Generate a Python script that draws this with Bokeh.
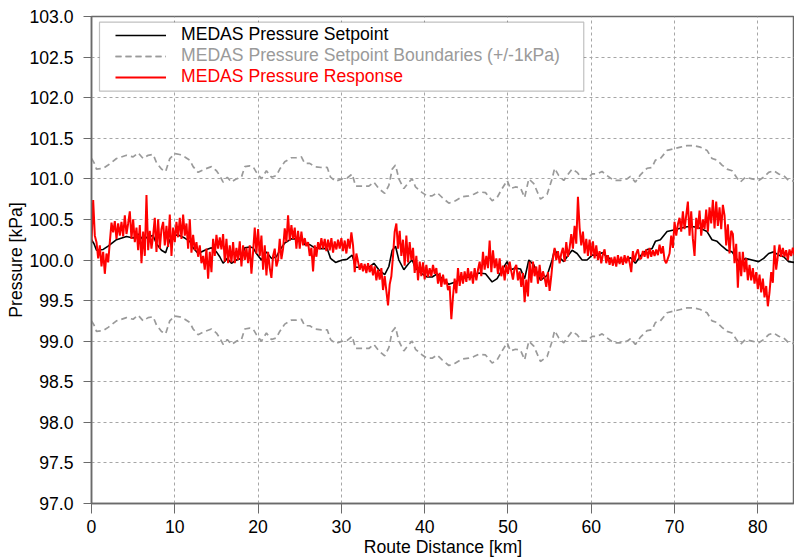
from bokeh.plotting import figure
from bokeh.models import (FixedTicker, PrintfTickFormatter, Legend, LegendItem,
                          BoxAnnotation, Range1d)
from bokeh.embed import file_html
from bokeh.resources import INLINE

# ---------------- data ----------------
setpoint_km = [0.0, 0.3, 0.6, 1.4, 2.0, 3.0, 4.2, 5.0, 5.6, 6.2, 6.8, 7.4, 7.8, 8.4, 8.9,
               9.4, 10.0, 10.6, 11.2, 11.8, 12.2, 12.8, 13.6, 14.4, 15.0, 15.4, 15.8, 16.3,
               16.8, 17.4, 18.0, 18.4, 19.0, 19.4, 19.8, 20.4, 21.0, 21.6, 22.2, 22.6, 23.2,
               24.0, 24.6, 25.2, 25.6, 26.2, 26.8, 27.6, 28.3, 28.7, 29.3, 30.1, 30.7, 31.3,
               31.7, 32.5, 33.3, 33.9, 34.5, 35.2, 35.7, 36.1, 36.5, 36.9, 37.5, 38.1, 38.5,
               38.9, 39.7, 40.3, 40.9, 41.5, 42.1, 42.9, 43.7, 44.5, 45.3, 45.9, 46.5, 47.3,
               48.1, 48.7, 49.3, 49.9, 50.3, 50.9, 51.5, 52.0, 52.5, 53.1, 53.9, 54.7, 55.3,
               55.6, 56.1, 56.7, 57.1, 57.7, 58.3, 58.9, 59.5, 60.1, 60.7, 61.3, 61.9, 62.7,
               63.5, 64.3, 64.7, 65.3, 65.9, 66.7, 67.3, 67.7, 68.3, 69.1, 69.9, 70.7, 71.5,
               72.3, 73.1, 73.9, 74.5, 75.1, 75.7, 76.3, 76.9, 77.5, 77.9, 78.5, 79.3, 80.1,
               80.7, 81.3, 81.9, 82.5, 83.1, 83.7, 84.4]
setpoint_kpa = [100.25, 100.20, 100.12, 100.13, 100.17, 100.25, 100.29, 100.27, 100.32, 100.25,
                100.29, 100.30, 100.20, 100.12, 100.09, 100.25, 100.31, 100.30, 100.27, 100.23,
                100.15, 100.08, 100.12, 100.15, 100.10, 100.04, 99.96, 100.02, 99.96, 100.00,
                100.02, 100.15, 100.16, 100.15, 100.08, 100.00, 100.10, 100.02, 100.04, 100.12,
                100.21, 100.26, 100.26, 100.27, 100.19, 100.19, 100.15, 100.14, 100.14, 100.02,
                99.97, 100.00, 100.01, 100.06, 99.91, 99.91, 99.91, 99.96, 99.88, 99.82,
                99.92, 100.12, 100.17, 100.00, 99.88, 99.96, 100.00, 99.90, 99.83, 99.79,
                99.79, 99.83, 99.77, 99.70, 99.73, 99.78, 99.79, 99.81, 99.84, 99.83,
                99.73, 99.77, 99.88, 99.98, 99.88, 99.90, 99.89, 99.77, 100.00, 99.94,
                99.75, 99.81, 100.00, 100.13, 100.04, 99.98, 100.04, 100.12, 100.08, 100.00,
                100.00, 100.06, 100.06, 100.09, 100.04, 99.98, 99.98, 100.00, 100.03, 99.96,
                100.05, 100.13, 100.14, 100.23, 100.25, 100.35, 100.37, 100.39, 100.41, 100.41,
                100.39, 100.35, 100.25, 100.23, 100.17, 100.12, 100.10, 100.01, 99.96, 100.02,
                100.00, 99.98, 100.02, 100.08, 100.10, 100.06, 100.04, 99.98, 99.97]
boundary_offset_kpa = 1.0

response_step_km = 0.2
response_kpa = [
    100.22, 100.74, 100.30, 100.22, 100.02,  100.18, 99.92, 100.10, 99.83, 100.08,
    99.97, 100.22, 100.46, 100.34, 100.48,   100.26, 100.45, 100.30, 100.47, 100.29,
    100.55, 100.32, 100.45, 100.60, 100.26,  100.50, 100.22, 100.40, 100.12, 100.43,
    99.96, 100.35, 100.05, 100.80, 100.12,   100.36, 100.14, 100.30, 100.52, 100.10,
    100.50, 100.14, 100.38, 100.47, 100.18,  100.42, 100.16, 100.56, 100.05, 100.40,
    100.22, 100.47, 100.28, 100.52, 100.26,  100.56, 100.30, 100.45, 100.14, 100.50,
    100.09, 100.31, 100.12, 100.22, 100.04,  100.18, 99.96, 100.05, 99.88, 100.14,
    99.77, 100.10, 99.85, 100.26, 100.05,    100.31, 100.14, 100.28, 100.13, 100.32,
    99.98, 100.26, 99.96, 100.18, 99.97,     100.22, 99.96, 100.15, 100.00, 100.23,
    99.92, 100.18, 100.00, 100.15, 99.96,    100.18, 99.83, 100.10, 100.40, 100.08,
    100.38, 100.05, 100.30, 99.88, 100.18,   99.81, 100.10, 99.90, 99.78, 100.05,
    100.14, 99.92, 100.00, 100.26, 100.01,   100.14, 100.39, 100.22, 100.55, 100.24,
    100.43, 100.26, 100.40, 100.14, 100.36,  100.14, 100.35, 100.18, 100.27, 100.17,
    100.22, 100.05, 100.15, 99.86, 100.18,   100.04, 100.22, 100.13, 100.27, 100.14,
    100.26, 100.11, 100.25, 100.12, 100.27,  100.09, 100.23, 100.13, 100.25, 100.14,
    100.27, 100.11, 100.24, 100.08, 100.26,  100.14, 100.34, 100.18, 99.85, 100.08,
    99.98, 99.88, 99.96, 99.86, 99.95,       99.84, 99.96, 99.85, 99.94, 99.81,
    99.92, 99.75, 99.88, 99.76, 99.90,       99.63, 99.80, 99.62, 99.44, 99.70,
    99.80, 100.05, 100.35, 100.45, 100.14,   100.36, 100.05, 100.25, 99.93, 100.30,
    99.97, 100.22, 100.00, 100.15, 99.84,    100.05, 99.75, 99.98, 99.80, 99.97,
    99.76, 99.94, 99.79, 99.90, 99.80,       99.94, 99.83, 99.90, 99.71, 99.84,
    99.67, 99.82, 99.70, 99.77, 99.63,       99.68, 99.27, 99.55, 99.77, 99.59,
    99.90, 99.68, 99.85, 99.71, 99.86,       99.73, 99.90, 99.75, 99.86, 99.71,
    99.90, 99.75, 99.88, 99.98, 99.80,       100.10, 99.88, 100.05, 99.90, 100.24,
    99.85, 100.12, 99.90, 100.02, 99.83,     100.02, 99.80, 99.93, 99.75, 99.94,
    99.83, 99.98, 99.86, 99.76, 99.90,       99.94, 99.75, 99.86, 99.67, 99.84,
    99.48, 99.76, 99.55, 99.98, 99.72,       99.98, 99.80, 99.92, 99.71, 99.94,
    99.75, 99.86, 99.78, 99.67, 99.85,       99.62, 99.80, 100.02, 100.15, 100.00,
    100.11, 99.96, 100.08, 100.15, 99.98,    100.22, 100.04, 100.15, 100.32, 100.14,
    100.42, 100.20, 100.78, 100.40, 100.18,  100.35, 100.08, 100.26, 100.05, 100.25,
    100.05, 100.23, 100.02, 100.18, 100.00,  100.11, 99.96, 100.07, 100.13, 99.96,
    100.06, 99.94, 100.03, 99.93, 100.04,    99.92, 100.06, 99.95, 100.04, 99.94,
    100.06, 99.96, 100.05, 99.97, 99.85,     100.11, 99.98, 100.08, 100.13, 100.01,
    100.02, 100.11, 100.04, 100.13, 100.02,  100.15, 100.04, 100.12, 100.05, 100.13,
    100.06, 100.19, 100.08, 100.17, 100.00,  99.96, 100.02, 100.08, 100.30, 100.15,
    100.47, 100.30, 100.44, 100.52, 100.35,  100.60, 100.38, 100.55, 100.72, 100.30,
    100.60, 100.26, 100.05, 100.52, 100.38,  100.61, 100.30, 100.50, 100.38, 100.62,
    100.35, 100.65, 100.45, 100.74, 100.39,  100.72, 100.42, 100.65, 100.38, 100.68,
    100.55, 100.18, 100.44, 100.08, 100.36,  100.32, 99.96, 100.20, 99.66, 100.10,
    99.80, 100.10, 99.85, 100.02, 99.75,     99.94, 99.75, 99.90, 99.71, 99.85,
    99.64, 99.82, 99.60, 99.77, 99.54,       99.68, 99.43, 99.60, 99.85, 99.72,
    100.18, 99.88, 100.05, 100.19, 100.04,   100.15, 100.04, 100.12, 100.00, 100.13,
    100.05, 100.15, 100.06,
]

x_ticks = [0, 10, 20, 30, 40, 50, 60, 70, 80]
y_ticks = [97.0, 97.5, 98.0, 98.5, 99.0, 99.5, 100.0, 100.5, 101.0, 101.5, 102.0, 102.5, 103.0]

legend_labels = ["MEDAS Pressure Setpoint",
                 "MEDAS Pressure Setpoint Boundaries (+/-1kPa)",
                 "MEDAS Pressure Response"]

# derived
response_km = [i * response_step_km for i in range(len(response_kpa))]
upper_kpa = [v + boundary_offset_kpa for v in setpoint_kpa]
lower_kpa = [v - boundary_offset_kpa for v in setpoint_kpa]

FONT = "Liberation Sans"
FS = "17.6px"

p = figure(width=794, height=559, output_backend="svg", toolbar_location=None,
           x_range=Range1d(0, 84.4), y_range=Range1d(97, 103),
           min_border_left=91, min_border_right=0, min_border_top=16, min_border_bottom=56)
p.background_fill_color = "white"
p.border_fill_color = "white"
p.outline_line_color = "#6a6a6a"
p.outline_line_width = 1.5

for ax in (p.xaxis[0], p.yaxis[0]):
    ax.axis_line_color = "#6a6a6a"
    ax.axis_line_width = 1.5
    ax.major_tick_line_color = "#6a6a6a"
    ax.minor_tick_line_color = None
    ax.major_tick_in = 0
    ax.major_label_text_font = FONT
    ax.major_label_text_font_size = FS
    ax.major_label_text_color = "black"
    ax.axis_label_text_font = FONT
    ax.axis_label_text_font_size = FS
    ax.axis_label_text_font_style = "normal"
    ax.axis_label_text_color = "black"

p.xaxis.ticker = FixedTicker(ticks=x_ticks)
p.yaxis.ticker = FixedTicker(ticks=y_ticks)
p.yaxis.formatter = PrintfTickFormatter(format="%.1f")
p.xaxis.axis_label = "Route Distance [km]"
p.yaxis.axis_label = "Pressure [kPa]"
p.xaxis.major_tick_out = 10
p.xaxis.major_label_standoff = 6
p.xaxis.axis_label_standoff = 1
p.yaxis.major_tick_out = 8
p.yaxis.major_label_standoff = 10
p.yaxis.axis_label_standoff = 0

for g in (p.xgrid[0], p.ygrid[0]):
    g.grid_line_color = "#a6a6a6"
    g.grid_line_dash = "3 3"
    g.grid_line_width = 1
p.xgrid.ticker = FixedTicker(ticks=x_ticks)
p.ygrid.ticker = FixedTicker(ticks=y_ticks)

r_set = p.line(setpoint_km, setpoint_kpa, line_color="black", line_width=1.6)
r_up = p.line(setpoint_km, upper_kpa, line_color="#9a9a9a", line_width=1.7, line_dash="6 4")
r_lo = p.line(setpoint_km, lower_kpa, line_color="#9a9a9a", line_width=1.7, line_dash="6 4")
r_resp = p.line(response_km, response_kpa, line_color="#ff0000", line_width=2.0)

# legend frame
box = BoxAnnotation(left=0.96, right=59.1, top=102.93, bottom=102.08,
                    fill_color="white", fill_alpha=1.0,
                    line_color="#303030", line_width=1.2)
p.add_layout(box)

legend_specs = [
    (legend_labels[0], [r_set], "black", 458),
    (legend_labels[1], [r_up, r_lo], "#9a9a9a", 437),
    (legend_labels[2], [r_resp], "#ff0000", 416),
]
for label, rends, col, ybot in legend_specs:
    leg = Legend(items=[LegendItem(label=label, renderers=rends)],
                 location=(24, ybot), padding=0, margin=0, spacing=0,
                 glyph_width=51, glyph_height=20, label_height=20,
                 label_standoff=15, border_line_color=None,
                 background_fill_alpha=0.0,
                 label_text_font=FONT, label_text_font_size=FS,
                 label_text_color=col)
    p.add_layout(leg)

open("out.html", "w").write(file_html(p, INLINE))
